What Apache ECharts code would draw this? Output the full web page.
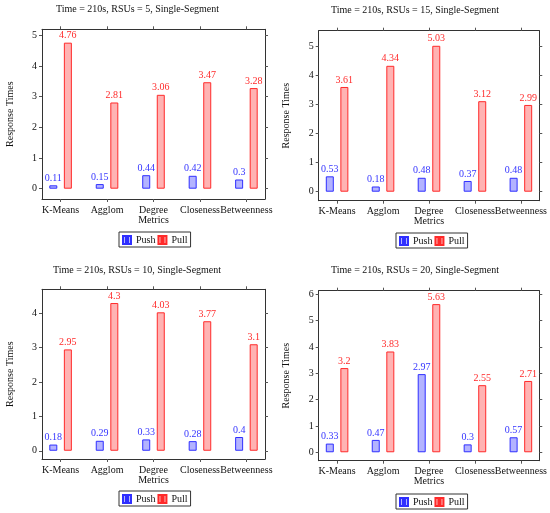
<!DOCTYPE html>
<html>
<head>
<meta charset="utf-8">
<script src="https://cdn.jsdelivr.net/npm/echarts@6/dist/echarts.min.js"></script>
<style>
html,body{margin:0;padding:0;background:#fff;}
#chart{width:550px;height:513px;}
</style>
</head>
<body>
<div id="chart"></div>
<script>
// ---- data ----
const categories = ['K-Means', 'Agglom', 'Degree\nMetrics', 'Closeness', 'Betweenness'];
const categoryIndex = [0, 1, 2, 3, 4];
const seriesNames = ['Push', 'Pull'];

const title5 = 'Time = 210s, RSUs = 5, Single-Segment';
const push5 = [0.11, 0.15, 0.44, 0.42, 0.3];
const pull5 = [4.76, 2.81, 3.06, 3.47, 3.28];
const yTicks5 = [0, 1, 2, 3, 4, 5];

const title15 = 'Time = 210s, RSUs = 15, Single-Segment';
const push15 = [0.53, 0.18, 0.48, 0.37, 0.48];
const pull15 = [3.61, 4.34, 5.03, 3.12, 2.99];
const yTicks15 = [0, 1, 2, 3, 4, 5];

const title10 = 'Time = 210s, RSUs = 10, Single-Segment';
const push10 = [0.18, 0.29, 0.33, 0.28, 0.4];
const pull10 = [2.95, 4.3, 4.03, 3.77, 3.1];
const yTicks10 = [0, 1, 2, 3, 4];

const title20 = 'Time = 210s, RSUs = 20, Single-Segment';
const push20 = [0.33, 0.47, 2.97, 0.3, 0.57];
const pull20 = [3.2, 3.83, 5.63, 2.55, 2.71];
const yTicks20 = [0, 1, 2, 3, 4, 5, 6];

const yAxisName = 'Response Times';

// ---- layout / style ----
const FONT = 'Liberation Serif';
const panels = [
  {title: title5,  push: push5,  pull: pull5,  ticks: yTicks5,  ymin: -0.336, ymax: 5.196,
   grid: {left: 42, top: 29.3, width: 223, height: 169.7}, tx: 137.5, ty: 4, lx: 119, ly: 232},
  {title: title15, push: push15, pull: pull15, ticks: yTicks15, ymin: -0.31, ymax: 5.55,
   grid: {left: 318.7, top: 30.7, width: 223, height: 170}, tx: 415, ty: 5.7, lx: 396, ly: 233},
  {title: title10, push: push10, pull: pull10, ticks: yTicks10, ymin: -0.24, ymax: 4.70,
   grid: {left: 42, top: 289.3, width: 223, height: 169.7}, tx: 137, ty: 265, lx: 119, ly: 491},
  {title: title20, push: push20, pull: pull20, ticks: yTicks20, ymin: -0.32, ymax: 6.14,
   grid: {left: 318.7, top: 290.7, width: 223, height: 170}, tx: 415, ty: 265.5, lx: 396, ly: 494}
];

const frameLine = {show: true, onZero: false, lineStyle: {color: '#333', width: 1}};
const tickStyle = {show: true, inside: false, length: 3, lineStyle: {color: '#555', width: 1}};
const pushStyle = {color: '#b3b3ff', borderColor: '#2f2fff', borderWidth: 1};
const pullStyle = {color: '#ffb3b3', borderColor: '#ff2a2a', borderWidth: 1};

const option = {
  animation: false,
  backgroundColor: '#fff',
  title: [], grid: [], xAxis: [], yAxis: [], series: [], legend: []
};

panels.forEach((p, k) => {
  option.title.push({
    text: p.title, left: p.tx, top: p.ty, padding: 0,
    textAlign: 'center', textVerticalAlign: 'top',
    textStyle: {fontFamily: FONT, fontSize: 10, fontWeight: 'normal', color: '#111'}
  });
  option.grid.push(Object.assign({containLabel: false}, p.grid));
  // bottom x axis
  option.xAxis.push({
    type: 'value', gridIndex: k, position: 'bottom', min: -0.4, max: 4.4,
    axisLine: frameLine,
    axisTick: Object.assign({customValues: categoryIndex}, tickStyle),
    axisLabel: {customValues: categoryIndex, formatter: v => categories[v] !== undefined ? categories[v] : '',
      fontFamily: FONT, fontSize: 10, color: '#111', margin: 6, lineHeight: 10},
    splitLine: {show: false}
  });
  // top x axis (frame + ticks)
  option.xAxis.push({
    type: 'value', gridIndex: k, position: 'top', min: -0.4, max: 4.4,
    axisLine: frameLine,
    axisTick: Object.assign({customValues: categoryIndex}, tickStyle),
    axisLabel: {show: false},
    splitLine: {show: false}
  });
  // left y axis
  option.yAxis.push({
    type: 'value', gridIndex: k, position: 'left', min: p.ymin, max: p.ymax,
    name: yAxisName, nameLocation: 'middle', nameGap: 27, nameRotate: 90,
    nameTextStyle: {fontFamily: FONT, fontSize: 10, color: '#111'},
    axisLine: frameLine,
    axisTick: Object.assign({customValues: p.ticks}, tickStyle),
    axisLabel: {customValues: p.ticks, fontFamily: FONT, fontSize: 10, color: '#111', margin: 5},
    splitLine: {show: false}
  });
  // right y axis
  option.yAxis.push({
    type: 'value', gridIndex: k, position: 'right', min: p.ymin, max: p.ymax,
    axisLine: frameLine,
    axisTick: Object.assign({customValues: p.ticks}, tickStyle),
    axisLabel: {show: false},
    splitLine: {show: false}
  });
  const mk = (name, vals, style, labelColor) => ({
    type: 'bar', name: name,
    xAxisIndex: 2 * k, yAxisIndex: 2 * k,
    data: vals.map((v, i) => [categoryIndex[i], v]),
    barWidth: 8, barGap: '82%',
    itemStyle: style,
    label: {show: true, position: 'top', distance: 2, formatter: q => String(q.value[1]),
      fontFamily: FONT, fontSize: 10, color: labelColor},
    emphasis: {disabled: true}
  });
  option.series.push(mk(seriesNames[0], p.push, pushStyle, '#3535ff'));
  option.series.push(mk(seriesNames[1], p.pull, pullStyle, '#ff2a2a'));
  option.legend.push({
    data: seriesNames, left: p.lx, top: p.ly, orient: 'horizontal',
    icon: 'path://M0,0h3v8h-3zM5,0h3v8h-3z',
    itemWidth: 8, itemHeight: 8, itemGap: 2,
    padding: [3, 3, 2, 3],
    borderColor: '#333', borderWidth: 1, borderRadius: 0,
    textStyle: {fontFamily: FONT, fontSize: 10, color: '#111'},
    selectedMode: false
  });
});

const chart = echarts.init(document.getElementById('chart'), null, {renderer: 'canvas'});
chart.setOption(option);
</script>
</body>
</html>
